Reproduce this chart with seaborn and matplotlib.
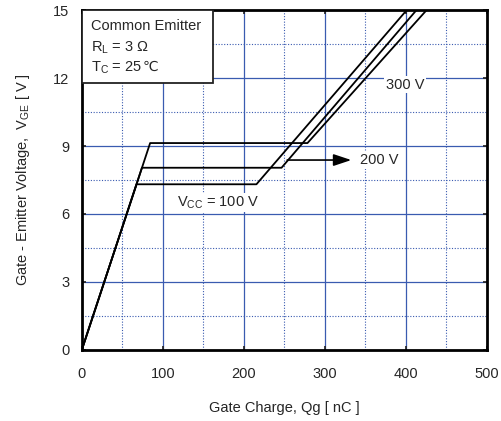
import matplotlib
matplotlib.use("Agg")
import matplotlib.pyplot as plt
import seaborn as sns
import pandas as pd
from matplotlib.patches import Rectangle

# Gate charge curves: breakpoints (Qg in nC, VGE in V) for each collector supply
vcc_labels = ["100 V", "200 V", "300 V"]
qg_100 = [0, 67.5, 215.5, 401]
vge_100 = [0, 7.31, 7.31, 15]
qg_200 = [0, 74.2, 246.5, 413]
vge_200 = [0, 8.04, 8.04, 15]
qg_300 = [0, 84.3, 278.5, 425.5]
vge_300 = [0, 9.13, 9.13, 15]

x_ticks = [0, 100, 200, 300, 400, 500]
y_ticks = [0, 3, 6, 9, 12, 15]

frames = []
for lab, q, v in zip(vcc_labels, [qg_100, qg_200, qg_300], [vge_100, vge_200, vge_300]):
    frames.append(pd.DataFrame({"Qg": q, "VGE": v, "Vcc": lab}))
df = pd.concat(frames, ignore_index=True)

sns.set_theme(style="white")
plt.rcParams["font.family"] = ["Liberation Sans", "DejaVu Sans"]
plt.rcParams["mathtext.fontset"] = "custom"
plt.rcParams["mathtext.rm"] = "Liberation Sans"
plt.rcParams["mathtext.it"] = "Liberation Sans"

fig = plt.figure(figsize=(5.02, 4.21), dpi=100)
ax = fig.add_axes([0.163, 0.169, 0.807, 0.807])

grid_c = "#3a5bb0"
for x in range(50, 500, 50):
    if x % 100 == 0:
        ax.axvline(x, color=grid_c, lw=0.9, zorder=0)
    else:
        ax.axvline(x, color=grid_c, lw=0.8, ls=(0, (1, 1.5)), zorder=0)
for y in [1.5, 3, 4.5, 6, 7.5, 9, 10.5, 12, 13.5]:
    if y % 3 == 0:
        ax.axhline(y, color=grid_c, lw=0.9, zorder=0)
    else:
        ax.axhline(y, color=grid_c, lw=0.8, ls=(0, (1, 1.5)), zorder=0)

sns.lineplot(data=df, x="Qg", y="VGE", units="Vcc", estimator=None, sort=False,
             color="black", lw=1.3, ax=ax, legend=False, zorder=3)

ax.set_xlim(0, 500)
ax.set_ylim(0, 15)
ax.set_xticks(x_ticks)
ax.set_yticks(y_ticks)
ax.tick_params(axis="x", direction="in", length=3, pad=12, labelsize=10.5,
               top=True, bottom=True)
ax.tick_params(axis="y", direction="in", length=3, pad=9, labelsize=10.5,
               left=True, right=True)
for s in ax.spines.values():
    s.set_color("black")
    s.set_linewidth(2)

ax.set_xlabel("Gate Charge, Qg [ nC ]", fontsize=10.5, labelpad=15)
ax.set_ylabel("Gate - Emitter Voltage,  V$_{\\mathrm{GE}}$ [ V ]", fontsize=10.5, labelpad=15)

# Test condition box
ax.add_patch(Rectangle((0, 11.78), 162, 3.22, facecolor="white", edgecolor="#222222",
                       lw=1.3, zorder=5))
ax.text(11, 14.28, "Common Emitter", fontsize=10.5, va="center", zorder=6)
ax.text(11, 13.35, "R$_{\\mathrm{L}}$ = 3 Ω", fontsize=10.5, va="center", zorder=6)
t_case = ax.text(11, 12.45, "T$_{\\mathrm{C}}$ = 25", fontsize=10.5, va="center", zorder=6)
ax.annotate("℃", xy=(1, 1), xycoords=t_case, xytext=(0.5, 0), textcoords="offset points",
            ha="left", va="top", fontsize=10, family="DejaVu Sans", zorder=6)

# Supply voltage labels
ax.text(375, 11.7, "300 V", fontsize=10.5, va="center", zorder=6,
        bbox=dict(facecolor="white", edgecolor="none", pad=1))
ax.annotate("", xy=(336, 8.38), xytext=(250, 8.38),
            arrowprops=dict(arrowstyle="-|>,head_length=0.9,head_width=0.3",
                            color="black", lw=1.2), zorder=6)
ax.text(343, 8.38, "200 V", fontsize=10.5, va="center", zorder=6,
        bbox=dict(facecolor="white", edgecolor="none", pad=1))
ax.text(118, 6.5, "V$_{\\mathrm{CC}}$ = 100 V", fontsize=10.5, va="center", zorder=6,
        bbox=dict(facecolor="white", edgecolor="none", pad=1))

fig.savefig("out.png", dpi=100)
